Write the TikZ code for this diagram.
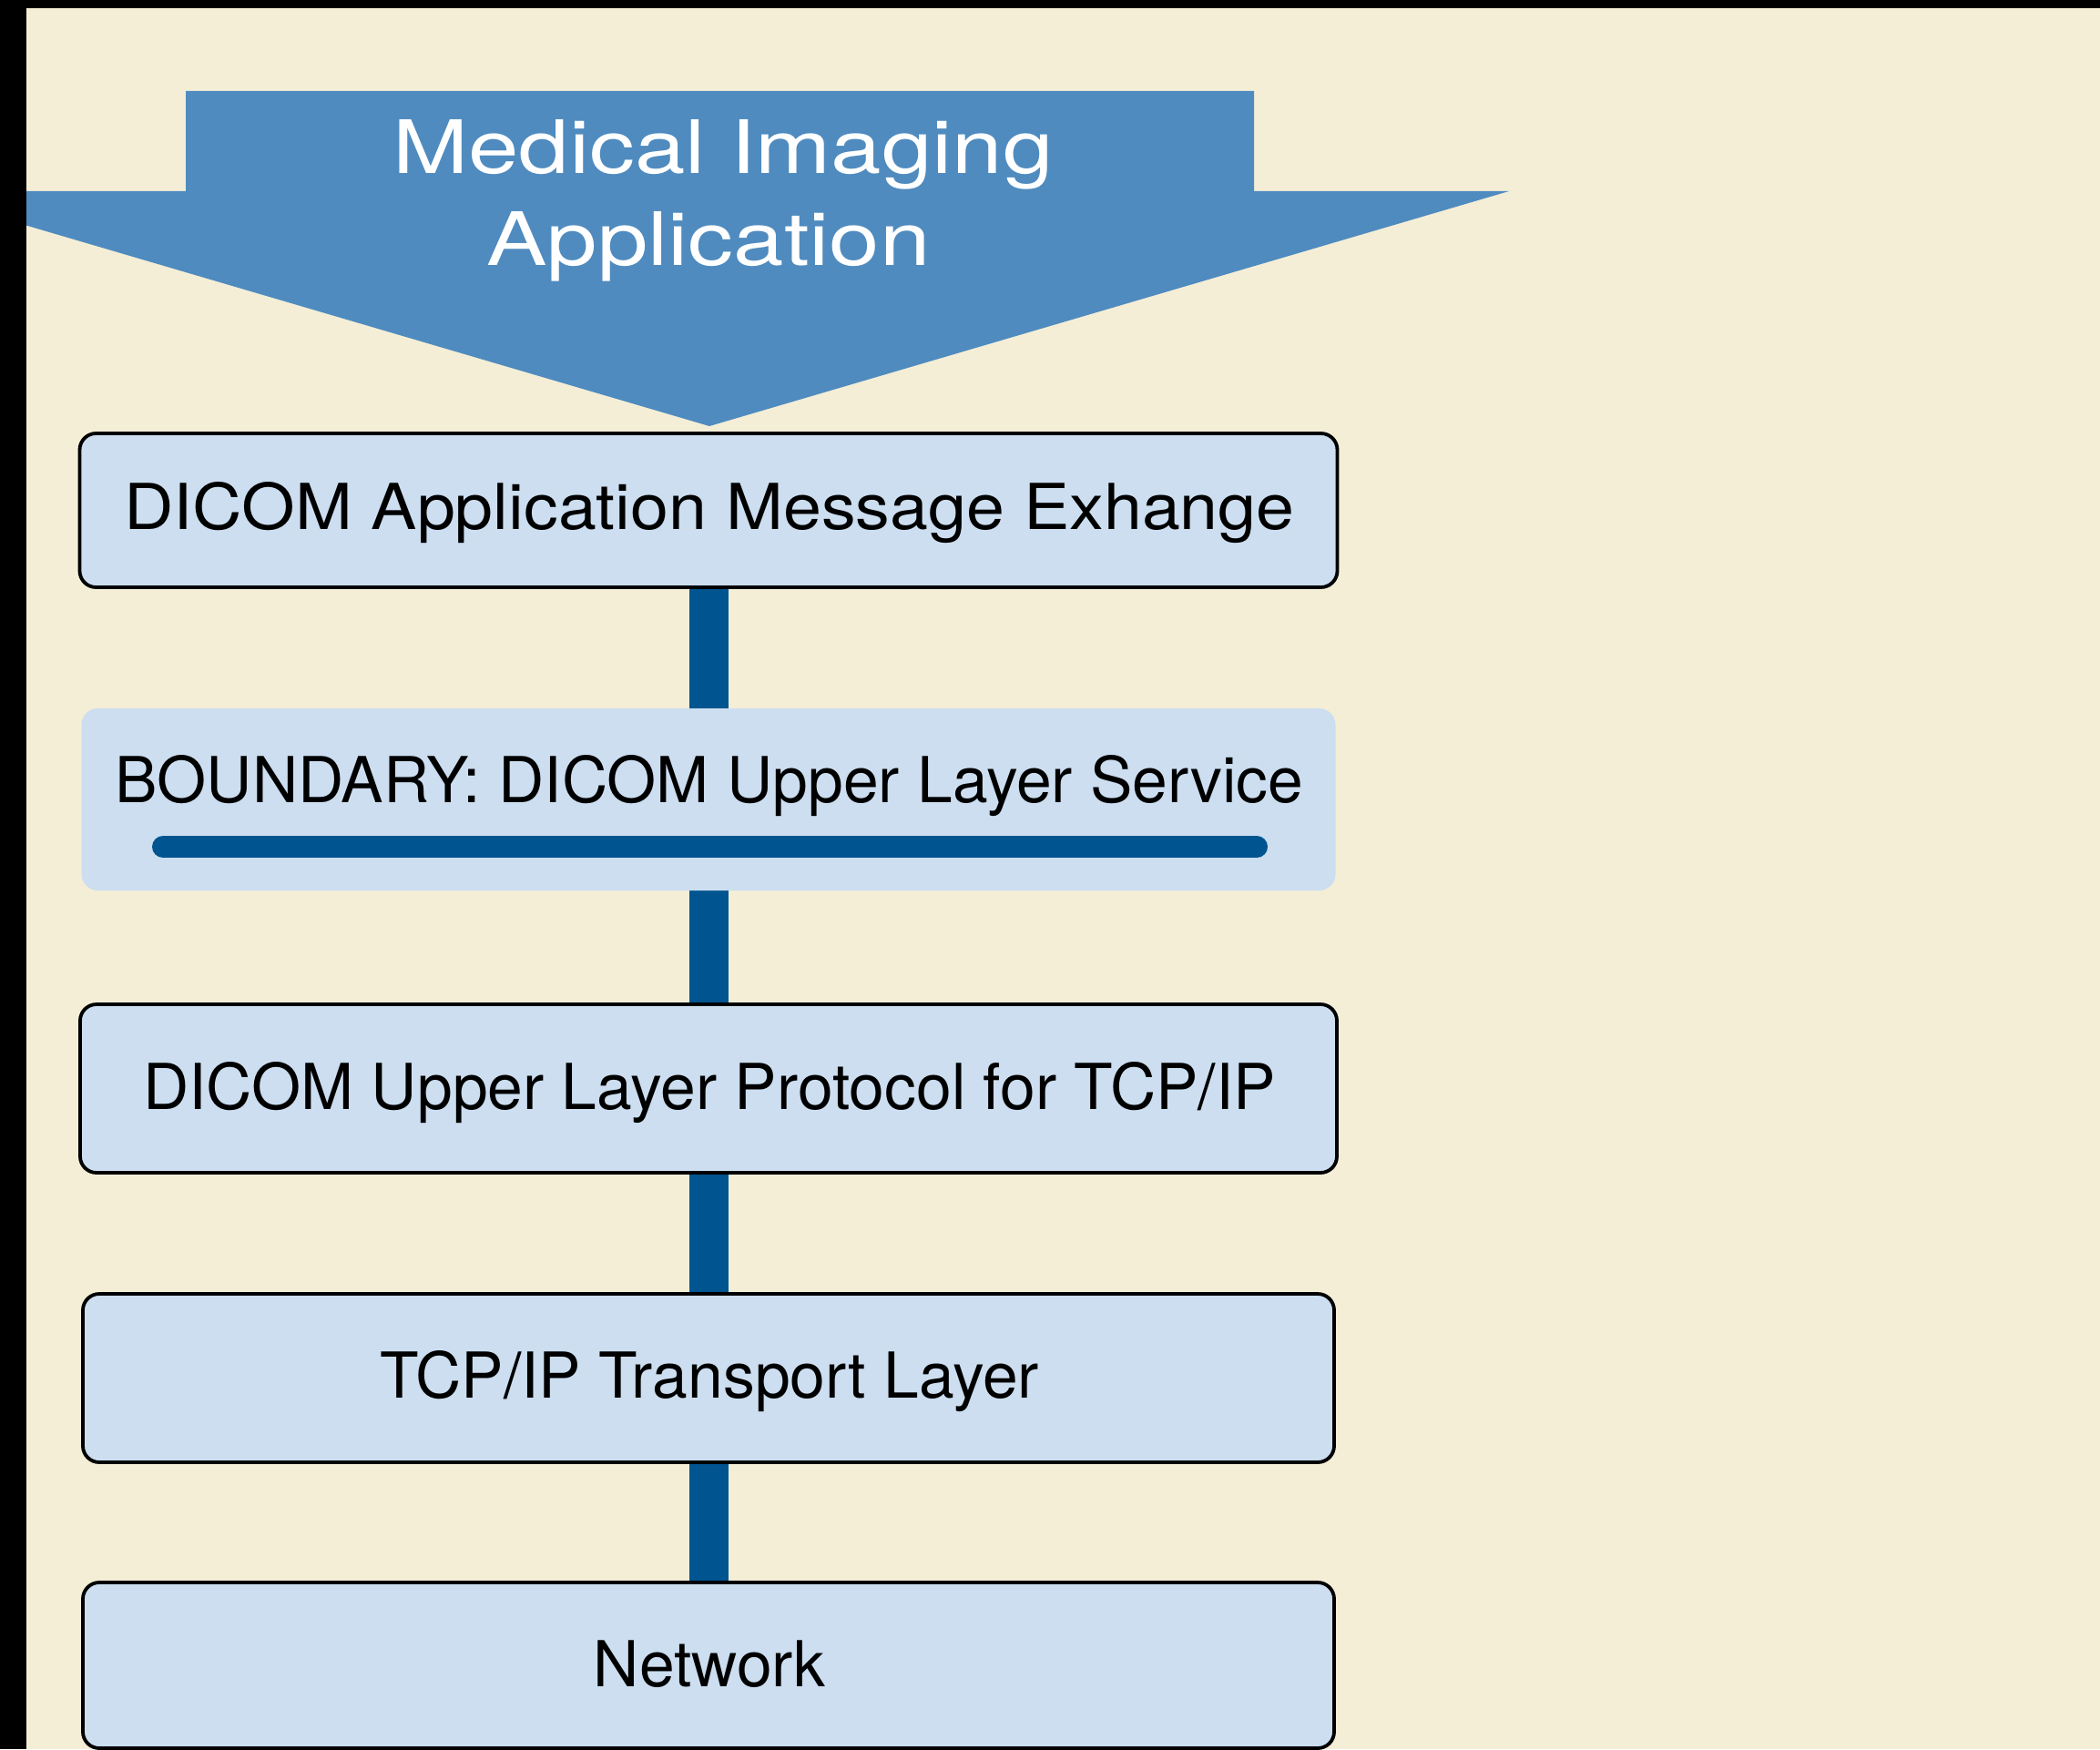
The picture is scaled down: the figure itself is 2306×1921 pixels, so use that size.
\documentclass[tikz,border=0pt]{standalone}
\usepackage{fontspec}
\setmainfont{TeX Gyre Heros}
\usetikzlibrary{calc}
\definecolor{cream}{RGB}{244,238,215}
\definecolor{arrowblue}{RGB}{79,139,191}
\definecolor{boxfill}{RGB}{204,222,240}
\definecolor{darkblue}{RGB}{0,84,143}
\pgfdeclarelayer{back}
\pgfdeclarelayer{mid}
\pgfsetlayers{back,mid,main}
\tikzset{
  layerbox/.style={draw=black, line width=1.9pt, fill=boxfill, rounded corners=9pt, inner sep=0pt},
  plainbox/.style={fill=boxfill, rounded corners=9pt, inner sep=0pt},
  bar/.style={draw=darkblue, line width=21.5pt},
  lbl/.style={anchor=base, inner sep=0pt, font=\fontsize{34.8}{40}\selectfont},
  ttl/.style={anchor=base, inner sep=0pt, text=white, font=\fontsize{40.5}{48}\selectfont},
}
\begin{document}
\begin{tikzpicture}[x=0.5pt,y=-0.5pt]
\useasboundingbox (0,0) rectangle (2306,1921);
\begin{pgfonlayer}{back}
  \fill[cream] (0,0) rectangle (2306,1921);
\end{pgfonlayer}
% big arrow
\fill[arrowblue] (204,100) -- (1377,100) -- (1377,210) -- (1657,210) -- (779,468)
  -- (-99,210) -- (204,210) -- cycle;
\node[ttl] (title1) at (794,191) {\scalebox{1.23}[1]{Medical Imaging}};
\node[ttl] (title2) at (778,292) {\scalebox{1.23}[1]{Application}};
% boxes
\node[layerbox, minimum width=690.5pt, minimum height=84.5pt] (b1) at (778,560.5) {};
\node[plainbox, minimum width=688.5pt, minimum height=100pt] (b2) at (778,878) {};
\node[layerbox, minimum width=690pt, minimum height=92.5pt] (b3) at (778,1195.5) {};
\node[layerbox, minimum width=687pt, minimum height=92.5pt] (b4) at (778,1513.5) {};
\node[layerbox, minimum width=687pt, minimum height=91pt] (b5) at (778,1829) {};
% labels
\node[lbl] (t1) at (779,581) {\scalebox{1.083}[1]{DICOM Application Message Exhange}};
\node[lbl] (t2) at (779,881) {BOUNDARY: DICOM Upper Layer Service};
\node[lbl] (t3) at (779,1218) {DICOM Upper Layer Protocol for TCP/IP};
\node[lbl] (t4) at (779,1535) {TCP/IP Transport Layer};
\node[lbl] (t5) at (779,1852) {Network};
% boundary line
\draw[darkblue, line width=12pt, line cap=round] (179,930) -- (1380,930);
% connectors
\begin{pgfonlayer}{mid}
  \draw[bar] (b1.south) -- (b2.north);
  \draw[bar] (b2.south) -- (b3.north);
  \draw[bar] (b3.south) -- (b4.north);
  \draw[bar] (b4.south) -- (b5.north);
\end{pgfonlayer}
% black frame bands
\fill[black] (0,0) rectangle (29,1921);
\fill[black] (0,0) rectangle (2306,9);
\end{tikzpicture}
\end{document}
